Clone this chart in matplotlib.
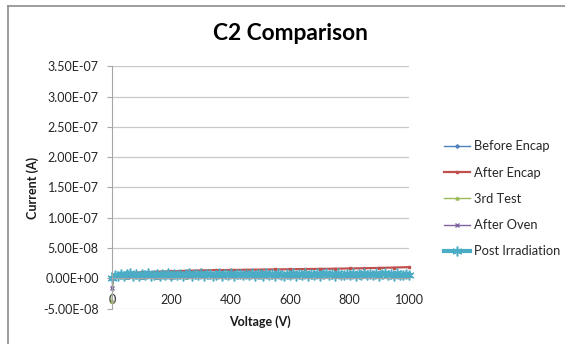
import matplotlib
matplotlib.use("Agg")
import matplotlib.pyplot as plt
from matplotlib.ticker import FuncFormatter, MultipleLocator
from matplotlib.lines import Line2D

plt.rcParams['font.family'] = ['Lato', 'DejaVu Sans']

# Sweep voltages (V)
volts_coarse = [0, 5, 50, 100, 150, 200, 250, 300, 350, 400, 450, 500,
                550, 600, 650, 700, 750, 800, 850, 900, 950, 1000]
volts_fine = [0, 10, 20, 30, 40, 50, 60, 70, 80, 90, 100,
              110, 120, 130, 140, 150, 160, 170, 180, 190, 200,
              210, 220, 230, 240, 250, 260, 270, 280, 290, 300,
              310, 320, 330, 340, 350, 360, 370, 380, 390, 400,
              410, 420, 430, 440, 450, 460, 470, 480, 490, 500,
              510, 520, 530, 540, 550, 560, 570, 580, 590, 600,
              610, 620, 630, 640, 650, 660, 670, 680, 690, 700,
              710, 720, 730, 740, 750, 760, 770, 780, 790, 800,
              810, 820, 830, 840, 850, 860, 870, 880, 890, 900,
              910, 920, 930, 940, 950, 960, 970, 980, 990, 1000]

# Leakage currents (nA)
before_encap = [0.3, 1.6, 2.0, 2.4, 2.7, 2.9, 3.1, 3.3, 3.4, 3.6, 3.7, 3.9,
                4.0, 4.2, 4.3, 4.5, 4.6, 4.8, 4.9, 5.1, 5.2, 5.4]
after_encap = [2.0, 4.0, 8.0, 10.0, 11.0, 11.8, 12.5, 13.2, 13.6, 13.9, 14.2, 14.5,
               14.8, 15.1, 15.4, 15.7, 16.0, 16.4, 16.8, 17.3, 17.9, 18.6]
third_test = [-38.0, 1.2, 1.8, 2.2, 2.5, 2.8, 3.0, 3.2, 3.3, 3.5, 3.6, 3.8,
              3.9, 4.1, 4.2, 4.4, 4.5, 4.6, 4.8, 4.9, 5.1, 5.2]
after_oven = [-16.0, 1.4, 2.1, 2.5, 2.8, 3.0, 3.2, 3.4, 3.5, 3.7, 3.8, 4.0,
              4.1, 4.3, 4.4, 4.6, 4.7, 4.9, 5.0, 5.2, 5.3, 5.5]
post_irradiation = [1.2, 5.8, 4.1, 7.9, 3.8, 6.6, 8.2, 4.4, 6.9, 3.9, 7.7,
                    5.2, 8.4, 4.0, 6.3, 7.8, 3.7, 6.8, 5.0, 8.3, 4.3,
                    7.1, 5.6, 8.0, 3.9, 6.5, 8.5, 4.6, 7.3, 5.1, 8.1,
                    4.2, 6.9, 7.9, 4.5, 6.1, 8.4, 4.1, 7.5, 5.4, 8.2,
                    3.9, 6.7, 8.0, 4.8, 7.2, 5.3, 8.5, 4.0, 6.9, 7.9,
                    4.6, 8.3, 5.5, 7.0, 4.1, 8.1, 6.2, 4.5, 7.8, 5.7,
                    8.6, 4.3, 7.1, 6.0, 8.4, 4.7, 7.4, 5.2, 8.2, 4.4,
                    6.8, 8.5, 5.0, 7.6, 4.6, 8.3, 6.1, 4.8, 7.9, 5.5,
                    8.6, 4.2, 7.2, 6.4, 8.5, 4.9, 7.7, 5.3, 8.4, 4.5,
                    7.0, 8.6, 5.1, 7.5, 4.7, 8.3, 6.2, 4.9, 8.0, 6.4]

labels = ["Before Encap", "After Encap", "3rd Test", "After Oven", "Post Irradiation"]
colors = ["#4F81BD", "#C0504D", "#9BBB59", "#8064A2", "#4BACC6"]

W, H = 565, 344
fig = plt.figure(figsize=(W / 100, H / 100), dpi=100)
ax = fig.add_axes([112 / W, 1 - 308.7 / H, 297 / W, 242.4 / H])

nA = 1e-9
series = [
    (volts_coarse, before_encap, 'D', 1.8, 1.0),
    (volts_coarse, after_encap, 's', 1.8, 1.6),
    (volts_coarse, third_test, '^', 2.2, 1.0),
    (volts_coarse, after_oven, 'x', 2.2, 1.0),
]
for (v, cur, mk, ms, lw), lab, col in zip(series, labels[:4], colors[:4]):
    ax.plot(v, [c * nA for c in cur], color=col, marker=mk, markersize=ms,
            linewidth=lw, label=lab, clip_on=False, zorder=2)
ax.plot(volts_fine, [c * nA for c in post_irradiation], color=colors[4],
        marker=(6, 2, 0), markersize=7, markeredgewidth=1.1, linewidth=3.0,
        label=labels[4], clip_on=False, zorder=2.2)

ax.set_xlim(0, 1000)
ax.set_ylim(-5e-8, 3.5e-7)
ax.xaxis.set_major_locator(MultipleLocator(200))
ax.yaxis.set_major_locator(MultipleLocator(5e-8))
ax.yaxis.set_major_formatter(FuncFormatter(lambda v, p: f"{v:.2E}"))

for s in ('top', 'right'):
    ax.spines[s].set_visible(False)
ax.spines['bottom'].set_position(('data', 0))
ax.spines['bottom'].set_color('#A6A6A6')
ax.spines['left'].set_color('#A6A6A6')
ax.grid(axis='y', color='#C8C8C8', linewidth=0.9)
ax.set_axisbelow(True)
ax.tick_params(axis='y', length=3.5, width=0.8, color='#A6A6A6', pad=6,
               labelsize=9, labelcolor='#262626')
ax.tick_params(axis='x', length=0, pad=11, labelsize=9, labelcolor='#262626')

ax.set_xlabel("Voltage (V)", fontsize=9, fontweight='bold', color='#1a1a1a')
ax.set_ylabel("Current (A)", fontsize=9, fontweight='bold', color='#1a1a1a')
ax.xaxis.label.set_va('center')
ax.yaxis.label.set_va('center')
ax.xaxis.set_label_coords(0.498, -0.054)
ax.yaxis.set_label_coords(-0.266, 0.498)

fig.text(290 / W, 1 - 33 / H, "C2 Comparison", ha='center', va='center',
         fontsize=16.4, fontweight='bold', color='#000000')

leg = fig.legend(loc='upper left', bbox_to_anchor=(444 / W, 1 - 140.5 / H),
                 frameon=False, fontsize=9.3, handlelength=2.0,
                 handletextpad=0.3, labelspacing=1.1, borderpad=0,
                 borderaxespad=0)
for t in leg.get_texts():
    t.set_color('#262626')

# chart frame
fig.add_artist(Line2D([7.5 / W, 7.5 / W], [0, 1 - 6 / H], transform=fig.transFigure,
                      color='#8C8C8C', linewidth=1.2))
fig.add_artist(Line2D([7.5 / W, 1], [1 - 6 / H, 1 - 6 / H], transform=fig.transFigure,
                      color='#8C8C8C', linewidth=1.2))

fig.savefig("out.png", dpi=100)
